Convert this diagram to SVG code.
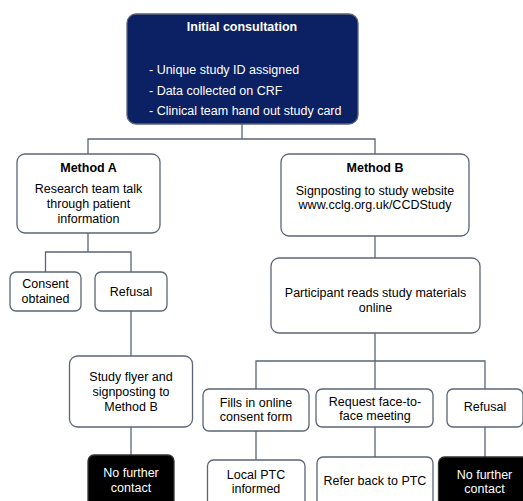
<svg xmlns="http://www.w3.org/2000/svg" width="523" height="501" viewBox="0 0 523 501">
<style>
.box{fill:#ffffff;stroke:#5b6577;stroke-width:1.3}
.dark{fill:#0c2163;stroke:#5b6577;stroke-width:1.3}
.black{fill:#000000;stroke:#333333;stroke-width:1.3}
.ln{fill:none;stroke:#5b6577;stroke-width:1.3}
text{font-family:"Liberation Sans",Arial,sans-serif;font-size:12.5px;fill:#000000;text-anchor:middle}
.b{font-weight:bold}
.w{fill:#ffffff}
.l{text-anchor:start}
</style>
<rect width="523" height="501" fill="#ffffff"/>
<g id="connectors">
<path class="ln" d="M242,124 V139 M88,154 V139 H375 V154"/>
<path class="ln" d="M88,233 V252 M45.5,272 V252 H131 V272"/>
<path class="ln" d="M131,311 V356 M131,427 V455"/>
<path class="ln" d="M375,236 V258"/>
<path class="ln" d="M375,333 V361 M256,389 V361 H485 V389 M375,361 V389"/>
<path class="ln" d="M256,431 V460 M375,427 V457 M485,427 V457"/>
</g>
<g id="initial">
<rect class="dark" x="127" y="14" width="231" height="110" rx="9"/>
<text class="b w" x="242" y="31">Initial consultation</text>
<text class="w l" x="149" y="74">- Unique study ID assigned</text>
<text class="w l" x="149" y="94.5">- Data collected on CRF</text>
<text class="w l" x="149" y="115">- Clinical team hand out study card</text>
</g>
<g id="methodA">
<rect class="box" x="17" y="154" width="143" height="79" rx="8"/>
<text class="b" x="88.5" y="172">Method A</text>
<text x="88.5" y="193">Research team talk</text>
<text x="88.5" y="208">through patient</text>
<text x="88.5" y="223">information</text>
</g>
<g id="consentA">
<rect class="box" x="10" y="272" width="71" height="39" rx="6"/>
<text x="45.5" y="288">Consent</text>
<text x="45.5" y="303">obtained</text>
</g>
<g id="refusalA">
<rect class="box" x="95" y="272" width="72" height="39" rx="6"/>
<text x="131" y="295.5">Refusal</text>
</g>
<g id="flyer">
<rect class="box" x="69.5" y="356" width="123" height="71" rx="8"/>
<text x="131" y="380.5">Study flyer and</text>
<text x="131" y="395.5">signposting to</text>
<text x="131" y="410.5">Method B</text>
</g>
<g id="nofurtherA">
<rect class="black" x="88" y="455" width="86" height="60" rx="6"/>
<text class="w" x="131" y="476.5">No further</text>
<text class="w" x="131" y="491.5">contact</text>
</g>
<g id="methodB">
<rect class="box" x="281" y="154" width="188" height="82" rx="8"/>
<text class="b" x="375" y="172">Method B</text>
<text x="375" y="194.5">Signposting to study website</text>
<text x="375" y="209">www.cclg.org.uk/CCDStudy</text>
</g>
<g id="participant">
<rect class="box" x="271" y="258" width="209" height="75" rx="8"/>
<text x="375.5" y="297">Participant reads study materials</text>
<text x="375.5" y="311.5">online</text>
</g>
<g id="fills">
<rect class="box" x="203" y="389" width="106" height="42" rx="6"/>
<text x="256" y="406.5">Fills in online</text>
<text x="256" y="420.5">consent form</text>
</g>
<g id="request">
<rect class="box" x="316" y="389" width="117" height="38" rx="6"/>
<text x="375" y="406">Request face-to-</text>
<text x="375" y="420">face meeting</text>
</g>
<g id="refusalB">
<rect class="box" x="447" y="389" width="76" height="38" rx="6"/>
<text x="485" y="411">Refusal</text>
</g>
<g id="localptc">
<rect class="box" x="207.5" y="460" width="97.5" height="55" rx="6"/>
<text x="256" y="478.5">Local PTC</text>
<text x="256" y="493">informed</text>
</g>
<g id="referback">
<rect class="box" x="317" y="457" width="116" height="58" rx="6"/>
<text x="375" y="485">Refer back to PTC</text>
</g>
<g id="nofurtherB">
<rect class="black" x="438.5" y="457" width="92" height="58" rx="6"/>
<text class="w" x="484.5" y="478.5">No further</text>
<text class="w" x="484.5" y="493">contact</text>
</g>
</svg>
